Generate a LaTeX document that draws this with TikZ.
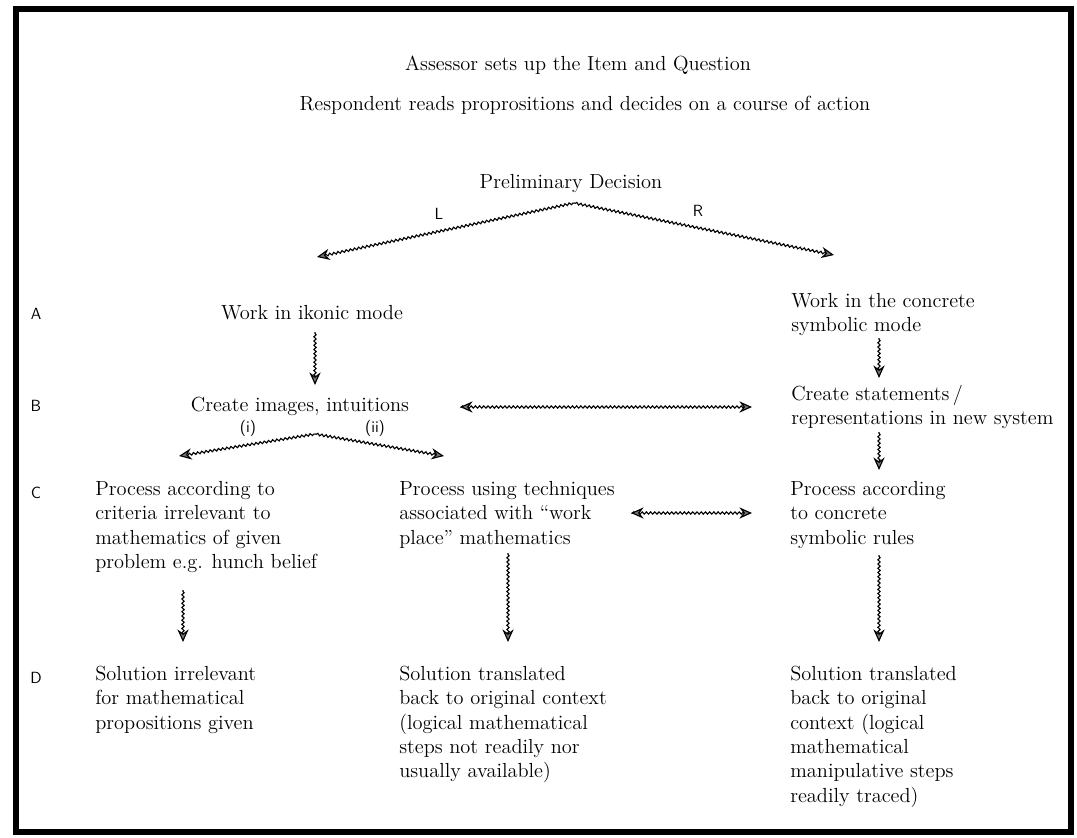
\documentclass[tikz,border=0pt]{standalone}
\usepackage{fontspec}
\usepackage{tikz}
\usetikzlibrary{arrows.meta,decorations.pathmorphing,calc}

\begin{document}
\begin{tikzpicture}[x=0.025cm,y=-0.025cm]
    \tikzstyle{every node} = [inner sep=0pt]
    \tikzstyle{txt} = [font=\fontsize{14.5}{17.3}\selectfont, align=left, anchor=north west]
    \tikzstyle{ctxt} = [font=\fontsize{14.5}{17.3}\selectfont, anchor=base]
    \tikzstyle{lbl} = [font=\sffamily\fontsize{11.5}{13}\selectfont, anchor=base]
    \tikzstyle{wave} = [decorate, decoration={snake, amplitude=0.8pt, segment length=3pt, pre length=1pt, post length=3pt}, line width=0.8pt]
    \tikzset{>={Stealth[length=9pt, width=8pt, inset=3pt, fill=black!55]}}
    \useasboundingbox (0,0) rectangle (1077,837);
    \draw[line width=4.5pt] (16,9) rectangle (1071,832);

    % place nodes
    \node[ctxt](assessor) at (578,70){Assessor sets up the Item and Question};
    \node[ctxt](respondent) at (585,110){Respondent reads proprositions and decides on a course of action};
    \node[ctxt](prelim) at (571,188){Preliminary Decision};
    \node[lbl](lL) at (439,219){L};
    \node[lbl](lR) at (698,216){R};

    \node[lbl](rowA) at (36,319){A};
    \node[lbl](rowB) at (36,411){B};
    \node[lbl](rowC) at (36,498){C};
    \node[lbl](rowD) at (36,683){D};

    \node[ctxt](ikonic) at (312,319){Work in ikonic mode};
    \node[txt](concrete) at (791,293){Work in the concrete\\symbolic mode};
    \node[ctxt](images) at (300,411){Create images, intuitions};
    \node[lbl](li) at (248,432){(i)};
    \node[lbl](lii) at (375,432){(ii)};
    \node[txt](statements) at (791,385){Create statements\,/\\representations in new system};

    \node[txt](crit) at (95,481){Process according to\\criteria irrelevant to\\mathematics of given\\problem e.g. hunch belief};
    \node[txt](workplace) at (399,481){Process using techniques\\associated with ``work\\place'' mathematics};
    \node[txt](rules) at (790,481){Process according\\to concrete\\symbolic rules};

    \node[txt](irrelevant) at (95,666){Solution irrelevant\\for mathematical\\propositions given};
    \node[txt](translated) at (399,666){Solution translated\\back to original context\\(logical mathematical\\steps not readily nor\\usually available)};
    \node[txt](traced) at (790,666){Solution translated\\back to original\\context (logical\\mathematical\\manipulative steps\\readily traced)};

    % Connections
    \coordinate (split) at ($(prelim.base)+(3,15)$);
    \draw[wave,->] (split) -- ($(ikonic.base)+(5,-62)$);
    \draw[wave,->] (split) -- ($(concrete.north west)+(43,-38)$);
    \draw[wave,->] ($(ikonic.base)+(3,13)$) -- ($(images.base)+(15,-26)$);
    \coordinate (split2) at ($(images.base)+(15,23)$);
    \draw[wave,->] (split2) -- ($(crit.north west)+(84,-25)$);
    \draw[wave,->] (split2) -- ($(workplace.north west)+(45,-25)$);
    \draw[wave,<->] ($(images.base)+(160,-4)$) -- ($(statements.north west)+(-39,22)$);
    \draw[wave,->] ($(concrete.north west)+(88,45)$) -- ($(statements.north west)+(88,-7)$);
    \draw[wave,->] ($(statements.north west)+(88,47)$) -- ($(rules.north west)+(89,-11)$);
    \draw[wave,<->] ($(workplace.north west)+(232,32)$) -- ($(rules.north west)+(-38,32)$);
    \draw[wave,->] ($(crit.north west)+(88,109)$) -- ($(irrelevant.north west)+(88,-24)$);
    \draw[wave,->] ($(workplace.north west)+(109,72)$) -- ($(translated.north west)+(109,-24)$);
    \draw[wave,->] ($(rules.north west)+(89,74)$) -- ($(traced.north west)+(89,-24)$);

\end{tikzpicture}
\end{document}
